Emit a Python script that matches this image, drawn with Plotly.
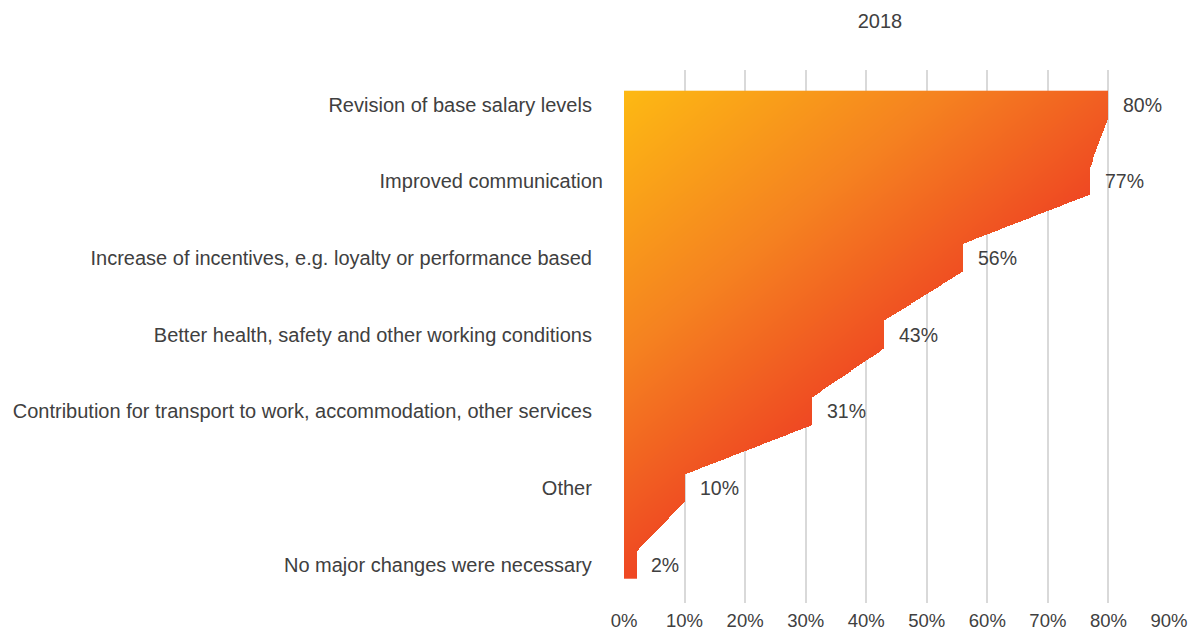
import numpy as np
import plotly.graph_objects as go

# ---- data ----
categories = [
    "Revision of base salary levels\u00a0\u00a0",
    "Improved communication",
    "Increase of incentives, e.g. loyalty or performance based\u00a0\u00a0",
    "Better health, safety and other working conditions\u00a0\u00a0",
    "Contribution for transport to work, accommodation, other services\u00a0\u00a0",
    "Other\u00a0\u00a0",
    "No major changes were necessary\u00a0\u00a0",
]
values = [80, 77, 56, 43, 31, 10, 2]
x_tick_values = [0, 10, 20, 30, 40, 50, 60, 70, 80, 90]
x_tick_labels = ["0%", "10%", "20%", "30%", "40%", "50%", "60%", "70%", "80%", "90%"]
chart_title = "2018"

# ---- styling ----
FONT = "Liberation Sans, Arial, Helvetica, sans-serif"
TEXT = "#404040"
GRID = "#d9d9d9"
HALF = 0.18  # half-height of each step (category units)
W, H = 1195, 624  # page has an 8px body margin

n = len(values)
pos = np.arange(n, dtype=float)

# staircase outline (right edge as a function of y)
path_y, path_x = [], []
for p, v in zip(pos, values):
    path_y += [p - HALF, p + HALF]
    path_x += [v, v]
path_y = np.array(path_y)
path_x = np.array(path_x, dtype=float)

vmax = float(max(values))
ytop, ybot = path_y[0], path_y[-1]

dx = 0.16
dy = 0.013
xc = np.arange(dx / 2, vmax, dx)
yc = np.arange(ytop + dy / 2, ybot, dy)
X, Y = np.meshgrid(xc, yc)
xr = np.interp(Y, path_y, path_x)
t = 0.45 * X / vmax + 0.55 * (Y - ytop) / (ybot - ytop)
Z = np.where(X <= xr, t, np.nan).astype(np.float32)

fig = go.Figure()
fig.add_trace(go.Heatmap(
    z=Z, x0=dx / 2, dx=dx, y0=ytop + dy / 2, dy=dy,
    zmin=0, zmax=1,
    colorscale=[[0, "#FDB913"], [0.3, "#F58220"], [0.58, "#EE4123"], [1, "#EE4123"]],
    showscale=False, hoverinfo="skip", zsmooth=False,
))

for p, v in zip(pos, values):
    fig.add_annotation(x=v, y=p, text=f"{v}%", showarrow=False,
                       xanchor="left", yanchor="middle", xshift=13,
                       font=dict(family=FONT, size=19.5, color=TEXT))

fig.update_layout(
    width=W, height=H,
    margin=dict(l=615.5, r=34, t=61.5, b=29, autoexpand=False),
    paper_bgcolor="white", plot_bgcolor="white",
    showlegend=False,
    title=dict(text=chart_title, x=(880 - 8) / W, xanchor="center",
               y=1 - (21 - 8) / H, yanchor="middle",
               font=dict(family=FONT, size=20, color=TEXT)),
    font=dict(family=FONT, size=20, color=TEXT),
)
fig.update_xaxes(range=[0, 90], tickvals=x_tick_values, ticktext=x_tick_labels,
                 showgrid=True, gridcolor=GRID, gridwidth=2, zeroline=False,
                 showline=False, ticks="", ticklabelstandoff=4,
                 tickfont=dict(family=FONT, size=18.5, color=TEXT))
fig.update_yaxes(range=[6.5, -0.45], tickvals=list(pos), ticktext=categories,
                 showgrid=False, zeroline=False, showline=False, ticks="",
                 ticklabelstandoff=20,
                 tickfont=dict(family=FONT, size=20, color=TEXT))

fig.write_html("out.html")
